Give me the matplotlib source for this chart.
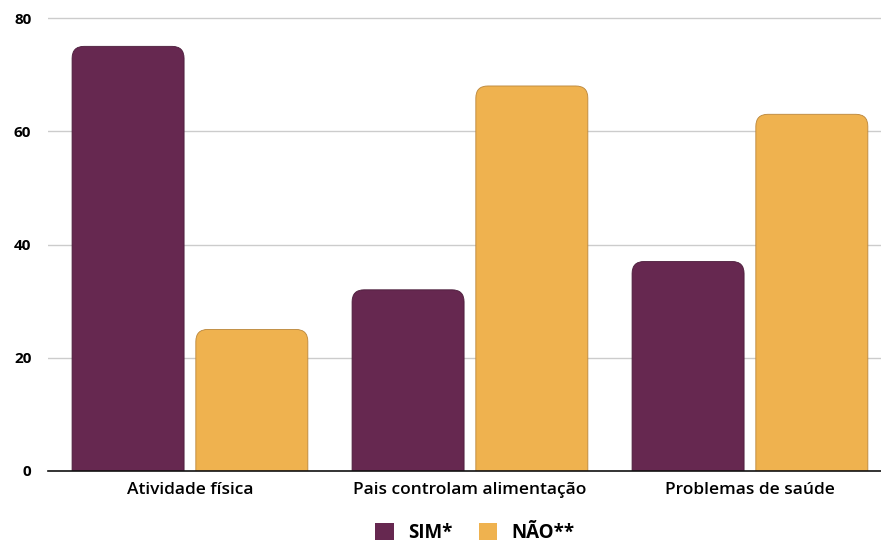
import matplotlib
matplotlib.use('Agg')
import matplotlib.pyplot as plt
from matplotlib.patches import FancyBboxPatch, Patch
import numpy as np

categories = ['Atividade física', 'Pais controlam alimentação', 'Problemas de saúde']
sim = [75, 32, 37]
nao = [25, 68, 63]
series_names = ['SIM*', 'NÃO**']
yticks = [0, 20, 40, 60, 80]

c_sim = '#662850'
c_nao = '#EFB24F'

plt.rcParams['font.family'] = ['Open Sans', 'DejaVu Sans']

fig = plt.figure(figsize=(8.81, 5.43), dpi=100)
ax = fig.add_axes([48 / 881, 72 / 543, 1 - 48 / 881, (471 - 15.2) / 543])

x = np.arange(len(categories))
w = 0.40
off = 0.221
b1 = ax.bar(x - off, sim, w, color='none')
b2 = ax.bar(x + off, nao, w, color='none')

# rounded tops: swap rectangles for rounded boxes that reach below 0 (clipped)
px_x = 280.0
px_y = 453 / 80
r_px = 12
rs = r_px / px_x
aspect = (r_px / px_y) / rs
for bars, col, ec in [(b1, c_sim, '#4a1c3a'), (b2, c_nao, '#b9853a')]:
    for rect in bars:
        x0 = rect.get_x()
        h = rect.get_height()
        p = FancyBboxPatch((x0, -5), rect.get_width(), h + 5,
                           boxstyle=f'round,pad=0,rounding_size={rs}',
                           mutation_aspect=aspect,
                           facecolor=col, edgecolor=ec, linewidth=0.6, zorder=3)
        ax.add_patch(p)
        rect.remove()

ax.set_xlim(-0.507, -0.507 + 833 / px_x)
ax.set_ylim(0, 80.5)
ax.set_yticks(yticks)
ax.set_yticklabels([str(t) for t in yticks], fontsize=11, fontweight='bold')
ax.set_xticks(x)
ax.set_xticklabels(categories, fontsize=12.5, fontweight='semibold')
ax.tick_params(axis='both', length=0)
ax.tick_params(axis='y', pad=12)
ax.tick_params(axis='x', pad=8)
ax.grid(axis='y', color='#cccccc', linewidth=1, zorder=0)
ax.set_axisbelow(True)
for s in ['top', 'right', 'left']:
    ax.spines[s].set_visible(False)
ax.spines['bottom'].set_color('#111111')
ax.spines['bottom'].set_linewidth(1.2)
ax.spines['bottom'].set_zorder(5)

handles = [Patch(facecolor=c_sim), Patch(facecolor=c_nao)]
fig.legend(handles, series_names, loc='center', bbox_to_anchor=(475 / 881, 1 - 533 / 543),
           ncol=2, frameon=False, prop={'size': 13.5, 'weight': 'bold'},
           handlelength=1.0, handleheight=1.0, columnspacing=1.4, handletextpad=0.75)

fig.savefig('out.png', dpi=100)
